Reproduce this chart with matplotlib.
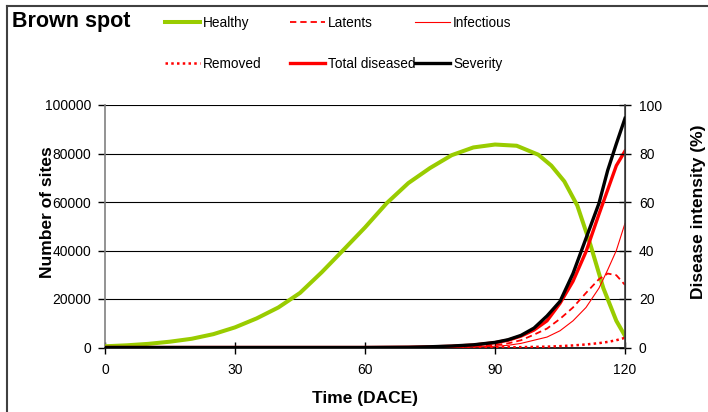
import matplotlib
matplotlib.use("Agg")
import matplotlib.pyplot as plt
from matplotlib.lines import Line2D

plt.rcParams['font.family'] = ['Liberation Sans', 'DejaVu Sans']

# ---- data ----
days_h = [0, 5, 10, 15, 20, 25, 30, 35, 40, 45, 50, 55, 60, 65, 70, 75, 80, 85,
          90, 95, 100, 103, 106, 109, 112, 115, 118, 120]
healthy = [500, 900, 1500, 2400, 3600, 5500, 8300, 12000, 16500, 22500, 31000,
           40200, 49500, 59500, 67800, 74000, 79300, 82500, 83700, 83200, 79500,
           75000, 68500, 58500, 42500, 24500, 11000, 4800]

days_d = [0, 60, 70, 75, 80, 85, 90, 93, 96, 99, 102, 105, 108, 111, 114, 116, 118, 120]
total_diseased = [0, 0, 100, 250, 500, 1000, 2000, 3000, 4700, 7200, 11000, 18200,
                  27300, 39500, 55000, 65000, 75000, 81000]
latents = [0, 0, 50, 130, 270, 550, 1000, 1700, 3000, 5300, 7800, 11800, 16500,
           22500, 28200, 30500, 29800, 25800]
infectious = [0, 0, 20, 50, 120, 250, 500, 900, 1700, 3000, 4300, 6900, 11000,
              16500, 24500, 32000, 40000, 51200]
removed = [0, 0, 0, 0, 10, 30, 60, 100, 150, 250, 350, 550, 850, 1250, 1800,
           2300, 3000, 4000]
severity = [0, 0, 0.1, 0.3, 0.6, 1.1, 2.1, 3.2, 5.0, 8.0, 13.0, 19.0, 30.5, 45.0,
            59.5, 73.0, 84.0, 94.5]

xticks = [0, 30, 60, 90, 120]
yticks_left = [0, 20000, 40000, 60000, 80000, 100000]
yticks_right = [0, 20, 40, 60, 80, 100]

W, H = 708, 412
fig = plt.figure(figsize=(W / 100, H / 100), dpi=100)
ax = fig.add_axes([105 / W, (H - 347.5) / H, 520 / W, 242.5 / H])
ax2 = ax.twinx()

green = '#99CC00'
red = '#FF0000'

h1, = ax.plot(days_h, healthy, color=green, lw=2.9, label='Healthy', zorder=3)
h4, = ax.plot(days_d, removed, color=red, lw=1.8, ls=(0, (1, 1.3)), label='Removed', zorder=3)
h3, = ax.plot(days_d, infectious, color=red, lw=0.8, label='Infectious', zorder=3)
h2, = ax.plot(days_d, latents, color=red, lw=1.3, ls=(0, (3.5, 2.2)), label='Latents', zorder=3)
h5, = ax.plot(days_d, total_diseased, color=red, lw=2.4, label='Total diseased', zorder=4)
h6, = ax2.plot(days_d, severity, color='black', lw=2.4, label='Severity', zorder=5)

ax.set_xlim(0, 120)
ax.set_ylim(0, 100000)
ax2.set_ylim(0, 100)
ax.set_xticks(xticks)
ax.set_yticks(yticks_left)
ax2.set_yticks(yticks_right)
ax.set_xticklabels([str(v) for v in xticks])
ax.set_yticklabels([str(v) for v in yticks_left])
ax2.set_yticklabels([str(v) for v in yticks_right])

ax.grid(axis='y', color='black', lw=0.8)
ax.set_axisbelow(True)
for a in (ax, ax2):
    a.spines['top'].set_visible(False)
ax.spines['left'].set_color('#808080')
ax.spines['left'].set_linewidth(1.2)
ax.spines['bottom'].set_color('black')
ax.spines['bottom'].set_linewidth(1.2)
ax2.spines['right'].set_color('#404040')
ax2.spines['right'].set_linewidth(1.2)
ax2.spines['left'].set_visible(False)
ax2.spines['bottom'].set_visible(False)

ax.tick_params(axis='x', direction='inout', length=8, width=1, pad=7, labelsize=10)
ax.tick_params(axis='y', direction='out', length=5, width=1, pad=5, labelsize=10)
ax2.tick_params(axis='y', direction='inout', length=8, width=1, pad=6, labelsize=10)

ax.set_xlabel('Time (DACE)', fontsize=12.5, fontweight='bold')
ax.set_ylabel('Number of sites', fontsize=12.5, fontweight='bold')
ax2.set_ylabel('Disease intensity (%)', fontsize=12.5, fontweight='bold')
ax.xaxis.set_label_coords(0.5, (347.5 - 391) / 242.5)
ax.yaxis.set_label_coords((55 - 105) / 520, 0.558)
ax2.yaxis.set_label_coords((691 - 105) / 520, 0.558)

# title
fig.text(12 / W, 1 - 22 / H, 'Brown spot', fontsize=15.5, fontweight='bold',
         ha='left', va='center')

# legends: three columns of two entries each
cols = [([h1, h4], 165), ([h2, h5], 290), ([h3, h6], 415)]
for handles, xpx in cols:
    leg = fig.legend(handles=handles, labels=[h.get_label() for h in handles],
                     loc='upper left', bbox_to_anchor=(xpx / W, 1 - 16 / H),
                     bbox_transform=fig.transFigure, frameon=False, fontsize=9.8,
                     handlelength=2.6, handletextpad=0.2, labelspacing=1.95,
                     borderpad=0, borderaxespad=0)

# figure frame (left and top edges)
fig.add_artist(Line2D([7 / W, 7 / W], [0, 1 - 6 / H], transform=fig.transFigure,
                      color='#404040', lw=1.5))
fig.add_artist(Line2D([7 / W, 1], [1 - 6 / H, 1 - 6 / H], transform=fig.transFigure,
                      color='#404040', lw=1.5))

fig.savefig('out.png', dpi=100)
